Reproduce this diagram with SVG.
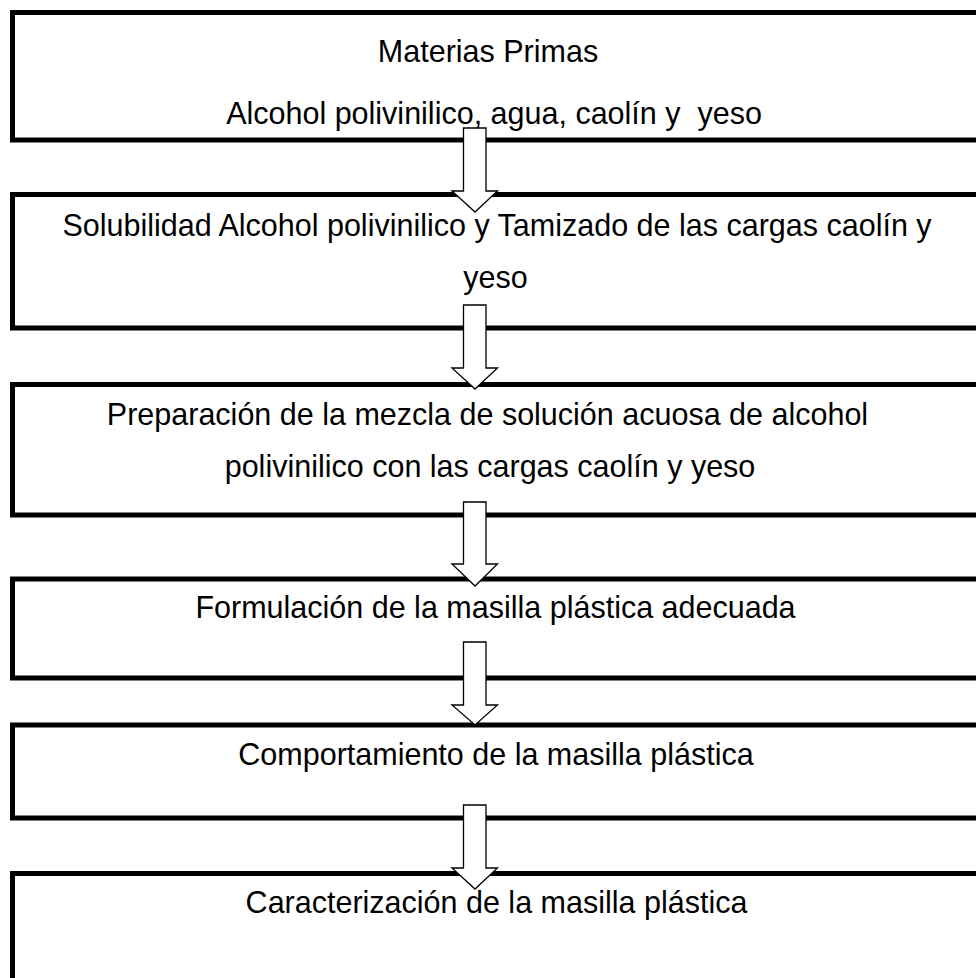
<svg xmlns="http://www.w3.org/2000/svg" width="976" height="978" viewBox="0 0 976 978">
<style>
.box{fill:#fff;stroke:#000;stroke-width:5}
.arr{fill:#fff;stroke:#000;stroke-width:1.3;stroke-linejoin:miter}
text{font-family:"Liberation Sans",Arial,sans-serif;font-size:30.5px;fill:#000;text-anchor:middle;white-space:pre}
</style>
<rect width="976" height="978" fill="#fff"/>
<g id="n1"><rect class="box" x="12.5" y="12.5" width="1000" height="127.5"/>
<text x="488" y="62">Materias Primas</text>
<text x="494" y="124">Alcohol polivinilico, agua, caolín y  yeso</text></g>
<g id="n2"><rect class="box" x="12.5" y="194.5" width="1000" height="133.5"/>
<text x="497" y="236">Solubilidad Alcohol polivinilico y Tamizado de las cargas caolín y</text>
<text x="495.5" y="288">yeso</text></g>
<g id="n3"><rect class="box" x="12.5" y="384.5" width="1000" height="130.5"/>
<text x="487.5" y="425">Preparación de la mezcla de solución acuosa de alcohol</text>
<text x="490" y="477">polivinilico con las cargas caolín y yeso</text></g>
<g id="n4"><rect class="box" x="12.5" y="579" width="1000" height="99"/>
<text x="495.5" y="618">Formulación de la masilla plástica adecuada</text></g>
<g id="n5"><rect class="box" x="12.5" y="725" width="1000" height="93"/>
<text x="496" y="765">Comportamiento de la masilla plástica</text></g>
<g id="n6"><rect class="box" x="12.5" y="873.5" width="1000" height="200"/>
<text x="496.5" y="913">Caracterización de la masilla plástica</text></g>
<g id="connectors">
<path class="arr" d="M463.5 128H486V191H497.5L475 212L452 191H463.5Z"/>
<path class="arr" d="M463.5 305H486V368H497.5L475 389L452 368H463.5Z"/>
<path class="arr" d="M463.5 502H486V564H497.5L475 586L452 564H463.5Z"/>
<path class="arr" d="M463.5 642H486V705H497.5L475 725L452 705H463.5Z"/>
<path class="arr" d="M463.5 805H486V868H497.5L475 889L452 868H463.5Z"/>
</g>
</svg>
